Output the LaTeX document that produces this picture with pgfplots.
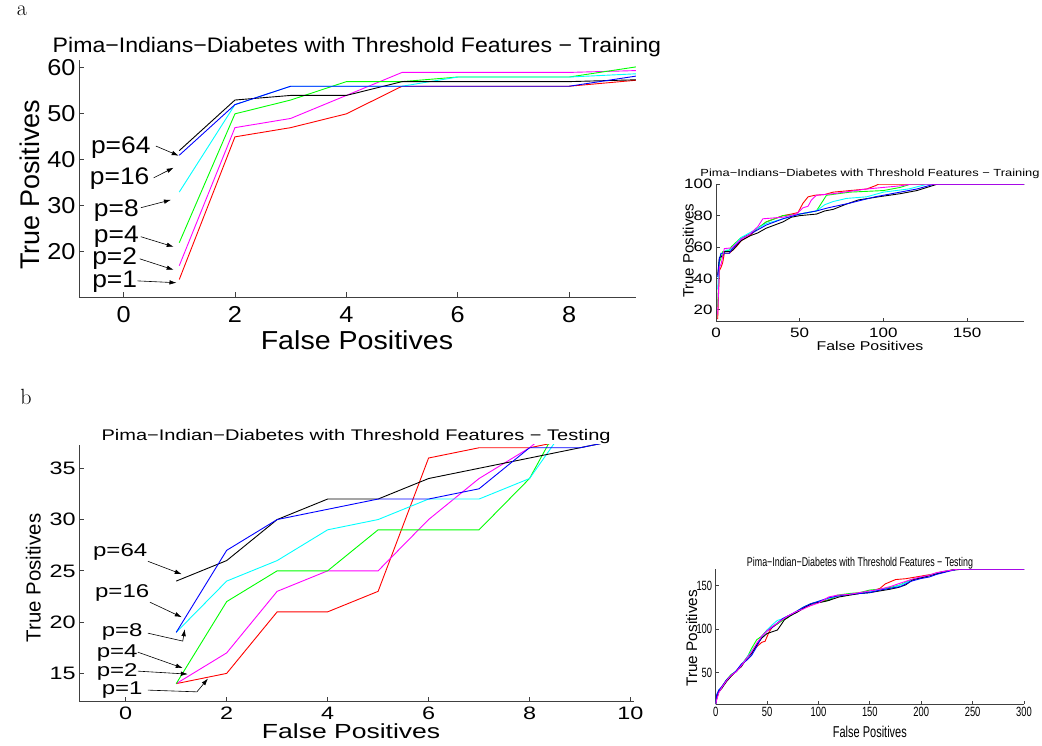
\documentclass[border=0pt]{standalone}
\usepackage{fontspec}
\setmainfont{Liberation Sans}
\newfontfamily\fa[FakeStretch=1.1]{Liberation Sans}
\newfontfamily\fb[FakeStretch=1.3]{Liberation Sans}
\newfontfamily\fia[FakeStretch=1.25]{Liberation Sans}
\newfontfamily\fib[FakeStretch=0.7]{Liberation Sans}
\usepackage{pgfplots}
\pgfplotsset{compat=1.18}
\usetikzlibrary{arrows.meta}
\newcommand\fs[1]{\fontsize{#1}{#1}\selectfont}
\definecolor{axgray}{gray}{0.25}
\definecolor{mred}{rgb}{1,0,0}
\definecolor{mmag}{rgb}{1,0,1}
\definecolor{mgreen}{rgb}{0,1,0}
\definecolor{mcyan}{rgb}{0,1,1}
\definecolor{mblue}{rgb}{0,0,1}
\definecolor{mblack}{rgb}{0,0,0}
\pgfplotsset{
  roc/.style={
    scale only axis,
    axis lines=left,
    axis line style={-, draw=axgray, line width=0.9pt},
    tick align=inside,
    major tick length=5pt,
    tick style={axgray, line width=0.9pt},
    /pgf/number format/assume math mode=true,
    clip mode=individual,
    title style={anchor=center},
    xlabel style={anchor=center},
    ylabel style={anchor=center},
  },
  pl/.style={line width=0.9pt, mark=none},
}
\tikzset{ann/.style={-{Latex[length=7pt,width=4.5pt]}, line width=0.6pt, black},
  pa/.style={font=\fa\fs{24}, inner sep=0pt}}
\begin{document}
\begin{tikzpicture}
\useasboundingbox (0,0) rectangle (1042pt,745pt);
\node[font={\fontfamily{lmr}\fs{22}}, anchor=base] at (22pt,729pt) {a};
\node[font={\fontfamily{lmr}\fs{22}}, anchor=base] at (26pt,340pt) {b};

% ---------------- Panel a main ----------------
\begin{axis}[roc, at={(79pt,448pt)}, anchor=south west, width=557pt, height=237pt,
  xmin=-0.8, xmax=9.2, ymin=10.2, ymax=61.7,
  xtick={0,2,4,6,8}, ytick={20,30,40,50,60},
  tick label style={font=\fa\fs{23}},
  xticklabel style={yshift=-6pt},
  title={Pima−Indians−Diabetes with Threshold Features − Training},
  title style={font=\fa\fs{21}, at={(axis description cs:0.499,1.03)}},
  xlabel={False Positives},
  xlabel style={font=\fa\fs{26}, at={(axis description cs:0.499,-0.181)}},
  ylabel={True Positives},
  ylabel style={font=\fs{27}, at={(axis description cs:-0.088,0.473)}},
]
\addplot[pl, mred] coordinates {(1,14)(2,45)(3,47)(4,50)(5,56)(6,56)(7,56)(8,56)(9.2,57.3)};
\addplot[pl, mmag] coordinates {(1,17)(2,47)(3,49)(4,54)(5,59)(6,59)(7,59)(8,59)(9.2,59.4)};
\addplot[pl, mgreen] coordinates {(1,22)(2,50)(3,53)(4,57)(5,57)(6,58)(7,58)(8,58)(9.2,60.2)};
\addplot[pl, mcyan] coordinates {(1,33)(2,52)(3,56)(4,56)(5,56)(6,58)(7,58)(8,58)(9.2,58.7)};
\addplot[pl, mblack] coordinates {(1,42)(2,53)(3,54)(4,54)(5,57)(6,57)(7,57)(8,57)(9.2,57.4)};
\addplot[pl, mblue] coordinates {(1,41)(2,52)(3,56)(4,56)(5,56)(6,56)(7,56)(8,56)(9.2,58.2)};
\node[pa] at (axis cs:-0.05,42.6) {p=64};
\draw[ann] (axis cs:0.58,43.0) -- (axis cs:0.99,40.9);
\node[pa] at (axis cs:-0.07,35.9) {p=16};
\draw[ann] (axis cs:0.54,36.1) -- (axis cs:0.90,38.3);
\node[pa] at (axis cs:-0.13,28.9) {p=8};
\draw[ann] (axis cs:0.31,29.6) -- (axis cs:0.85,31.3);
\node[pa] at (axis cs:-0.13,23.3) {p=4};
\draw[ann] (axis cs:0.31,23.3) -- (axis cs:0.90,21.1);
\node[pa] at (axis cs:-0.16,18.5) {p=2};
\draw[ann] (axis cs:0.29,18.5) -- (axis cs:0.90,16.1);
\node[pa] at (axis cs:-0.16,13.5) {p=1};
\draw[ann] (axis cs:0.25,13.7) -- (axis cs:0.95,13.3);
\end{axis}

% ---------------- Panel a inset ----------------
\begin{axis}[roc, at={(716pt,423.7pt)}, anchor=south west, width=308pt, height=137pt,
  xmin=0, xmax=184, ymin=12.6, ymax=100,
  xtick={0,50,100,150}, ytick={20,40,60,80,100},
  major tick length=3.5pt,
  tick label style={font=\fia\fs{13.6}},
  xticklabel style={yshift=-3pt},
  title={Pima−Indians−Diabetes with Threshold Features − Training},
  title style={font=\fia\fs{10.3}, at={(axis description cs:0.5,1.035)}},
  xlabel={False Positives},
  xlabel style={font=\fia\fs{12.7}, at={(axis description cs:0.5,-0.18)}},
  ylabel={True Positives},
  ylabel style={font=\fs{15}, at={(axis description cs:-0.09,0.515)}},
]
\addplot[pl, mred] coordinates {(1,14)(2,45)(3,47)(4,50)(5,56)(8,56)(9.2,57.3)(10,58)(12,60)(15,64)(20,67)(25,72)(30,76)(35,78)(40,80)(45,81)(49,82)(52,88)(55,92)(59,93)(65,93.5)(70,95)(80,96)(90,97)(95,99)(97,100)(184,100)};
\addplot[pl, mgreen] coordinates {(1,22)(2,50)(3,53)(4,57)(8,58)(9.2,60.2)(10,61)(15,66)(20,68)(25,72)(30,76)(40,80)(50,81)(60,83)(63,88)(66,93)(80,95)(100,96)(110,98)(116,100)(184,100)};
\addplot[pl, mcyan] coordinates {(1,33)(2,52)(3,56)(5,56)(6,58)(8,58)(9.2,58.7)(10,60)(15,66)(20,69)(25,72)(30,75)(40,78)(50,81)(60,83)(65,87)(70,89)(78,91)(90,92)(100,95)(115,97)(126,100)(184,100)};
\addplot[pl, mblack] coordinates {(1,42)(2,53)(3,54)(4,54)(5,57)(8,57)(9.2,57.4)(10,58)(15,64)(20,67)(25,69)(30,72)(35,74)(40,76)(45,79)(50,80)(60,81)(65,83)(70,84)(77,87)(85,90)(97,92)(110,94)(120,96)(132,100)(184,100)};
\addplot[pl, mblue] coordinates {(1,41)(2,52)(3,56)(8,56)(9.2,58.2)(10,59)(15,65)(20,68)(25,71)(30,74)(40,78)(50,81)(60,83)(67,85)(80,88)(95,92)(110,95)(120,97)(130,100)(184,100)};
\addplot[pl, mmag] coordinates {(1,17)(2,47)(3,49)(4,54)(5,59)(9.2,59.4)(10,60)(15,65)(20,68)(25,73)(28,78)(40,79)(48,81)(52,85)(55,86)(57,90)(60,93)(70,94)(90,97)(100,98)(110,99)(116,100)(184,100)};
\end{axis}

% ---------------- Panel b main ----------------
\begin{axis}[roc, at={(79.3pt,43.3pt)}, anchor=south west, width=554.7pt, height=256.7pt,
  xmin=-0.92, xmax=10.07, ymin=12.24, ymax=37.27,
  xtick={0,2,4,6,8,10}, ytick={15,20,25,30,35},
  tick label style={font=\fb\fs{18}},
  xticklabel style={yshift=-2pt},
  title={Pima−Indian−Diabetes with Threshold Features − Testing},
  title style={font=\fb\fs{15.4}, at={(axis description cs:0.499,1.008)}},
  xlabel={False Positives},
  xlabel style={font=\fb\fs{20.4}, at={(axis description cs:0.49,-0.114)}},
  ylabel={True Positives},
  ylabel style={font=\fs{20.4}, at={(axis description cs:-0.083,0.482)}},
]
\addplot[pl, mred] coordinates {(1,14)(2,15)(3,21)(4,21)(5,23)(6,36)(7,37)(8,37)(9,38)};
\addplot[pl, mmag] coordinates {(1,14)(2,17)(3,23)(4,25)(5,25)(6,30)(7,34)(8,37)(8.5,39)};
\addplot[pl, mgreen] coordinates {(1,14)(2,22)(3,25)(4,25)(5,29)(6,29)(7,29)(8,34)(9,43)};
\addplot[pl, mcyan] coordinates {(1,19)(2,24)(3,26)(4,29)(5,30)(6,32)(7,32)(8,34)(9,41)};
\addplot[pl, mblack] coordinates {(1,24)(2,26)(3,30)(4,32)(5,32)(6,34)(7,35)(8,36)(9,37)(10,38)};
\addplot[pl, mblue] coordinates {(1,19)(2,27)(3,30)(4,31)(5,32)(6,32)(7,33)(8,37)(9,37)(10,38)};
\node[font=\fb\fs{18.5}] at (axis cs:-0.11,26.84) {p=64};
\draw[ann] (axis cs:0.44,25.93) -- (axis cs:1.11,24.67);
\node[font=\fb\fs{18.5}] at (axis cs:-0.07,22.82) {p=16};
\draw[ann] (axis cs:0.48,21.94) -- (axis cs:1.11,20.48);
\node[font=\fb\fs{18.5}] at (axis cs:-0.07,19.02) {p=8};
\draw[ann] (axis cs:0.44,18.92) -- (axis cs:1.13,18.15) -- (axis cs:1.17,19.31);
\node[font=\fb\fs{18.5}] at (axis cs:-0.17,16.98) {p=4};
\draw[ann] (axis cs:0.24,17.07) -- (axis cs:1.13,15.52);
\node[font=\fb\fs{18.5}] at (axis cs:-0.17,15.13) {p=2};
\draw[ann] (axis cs:0.24,15.22) -- (axis cs:1.23,14.93);
\node[font=\fb\fs{18.5}] at (axis cs:-0.07,13.37) {p=1};
\draw[ann] (axis cs:0.44,13.37) -- (axis cs:1.41,13.2) -- (axis cs:1.63,14.5);
\end{axis}

% ---------------- Panel b inset ----------------
\begin{axis}[roc, at={(715.7pt,41pt)}, anchor=south west, width=308.3pt, height=134.7pt,
  xmin=0, xmax=300, ymin=14, ymax=168.8,
  xtick={0,50,100,150,200,250,300}, ytick={50,100,150},
  major tick length=3.5pt,
  tick label style={font=\fib\fs{13.4}},
  title={Pima−Indian−Diabetes with Threshold Features − Testing},
  title style={font=\fib\fs{12.7}, at={(axis description cs:0.468,1.0)}},
  xlabel={False Positives},
  xlabel style={font=\fib\fs{15.7}, at={(axis description cs:0.5,-0.206)}},
  ylabel={True Positives},
  ylabel style={font=\fs{15.3}, at={(axis description cs:-0.078,0.488)}},
]
\addplot[pl, mred] coordinates {(0,14)(1,20)(3,28)(6,34)(10,40)(15,46)(20,52)(25,59)(30,67)(35,74)(40,80)(45,85)(48,86)(52,97)(55,102)(60,106)(65,111)(70,115)(78,119)(85,124)(92,127)(100,131)(110,134)(118,138)(130,140)(140,141)(150,143)(160,147)(165,152)(175,157)(185,158)(200,161)(210,163)(220,166)(230,168)(238,168.8)(300,168.8)};
\addplot[pl, mgreen] coordinates {(0,14)(1,21)(3,29)(6,33)(10,41)(15,48)(20,51)(25,58)(30,66)(35,78)(40,88)(45,92)(50,99)(55,103)(60,106)(65,110)(70,113)(78,120)(85,125)(92,129)(100,131)(110,133)(118,139)(130,141)(140,142)(150,145)(160,146)(170,148)(180,151)(190,157)(199,159)(208,162)(215,164)(225,167)(236,168.8)(300,168.8)};
\addplot[pl, mcyan] coordinates {(0,14)(1,22)(3,30)(6,33)(10,40)(15,47)(20,52)(25,59)(30,67)(35,75)(40,83)(45,91)(50,99)(55,105)(60,110)(65,112)(70,115)(78,119)(85,125)(92,128)(100,132)(110,135)(118,138)(130,140)(140,141)(150,143)(160,145)(170,147)(180,151)(190,156)(199,159)(208,162)(215,164)(225,167)(237,168.8)(300,168.8)};
\addplot[pl, mblack] coordinates {(0,14)(1,21)(3,28)(6,32)(10,39)(15,46)(20,52)(25,57)(30,66)(35,72)(40,82)(45,90)(50,95)(55,97)(60,99)(63,104)(67,111)(72,115)(80,120)(88,126)(95,130)(103,131)(110,133)(120,137)(130,139)(140,141)(150,142)(160,144)(170,146)(178,148)(185,151)(192,157)(200,159)(210,162)(220,165)(230,168)(240,168.8)(300,168.8)};
\addplot[pl, mblue] coordinates {(0,14)(1,25)(3,30)(6,34)(10,41)(15,47)(20,52)(25,60)(30,64)(35,70)(40,80)(45,92)(50,98)(55,102)(60,107)(65,112)(70,115)(78,120)(85,125)(92,129)(100,132)(110,136)(118,138)(130,140)(140,141)(150,142)(160,145)(170,147)(180,149)(190,155)(199,158)(208,160)(215,163)(225,166)(235,168.8)(300,168.8)};
\addplot[pl, mmag] coordinates {(0,14)(1,19)(3,27)(6,33)(10,40)(15,47)(20,51)(25,58)(30,66)(35,74)(40,84)(45,92)(50,98)(55,103)(60,107)(65,111)(70,115)(78,120)(85,123)(92,127)(100,130)(110,137)(118,139)(130,140)(140,142)(150,144)(160,146)(170,149)(180,153)(190,157)(199,160)(208,162)(215,165)(225,167)(235,168.8)(300,168.8)};
\end{axis}
\end{tikzpicture}
\end{document}
